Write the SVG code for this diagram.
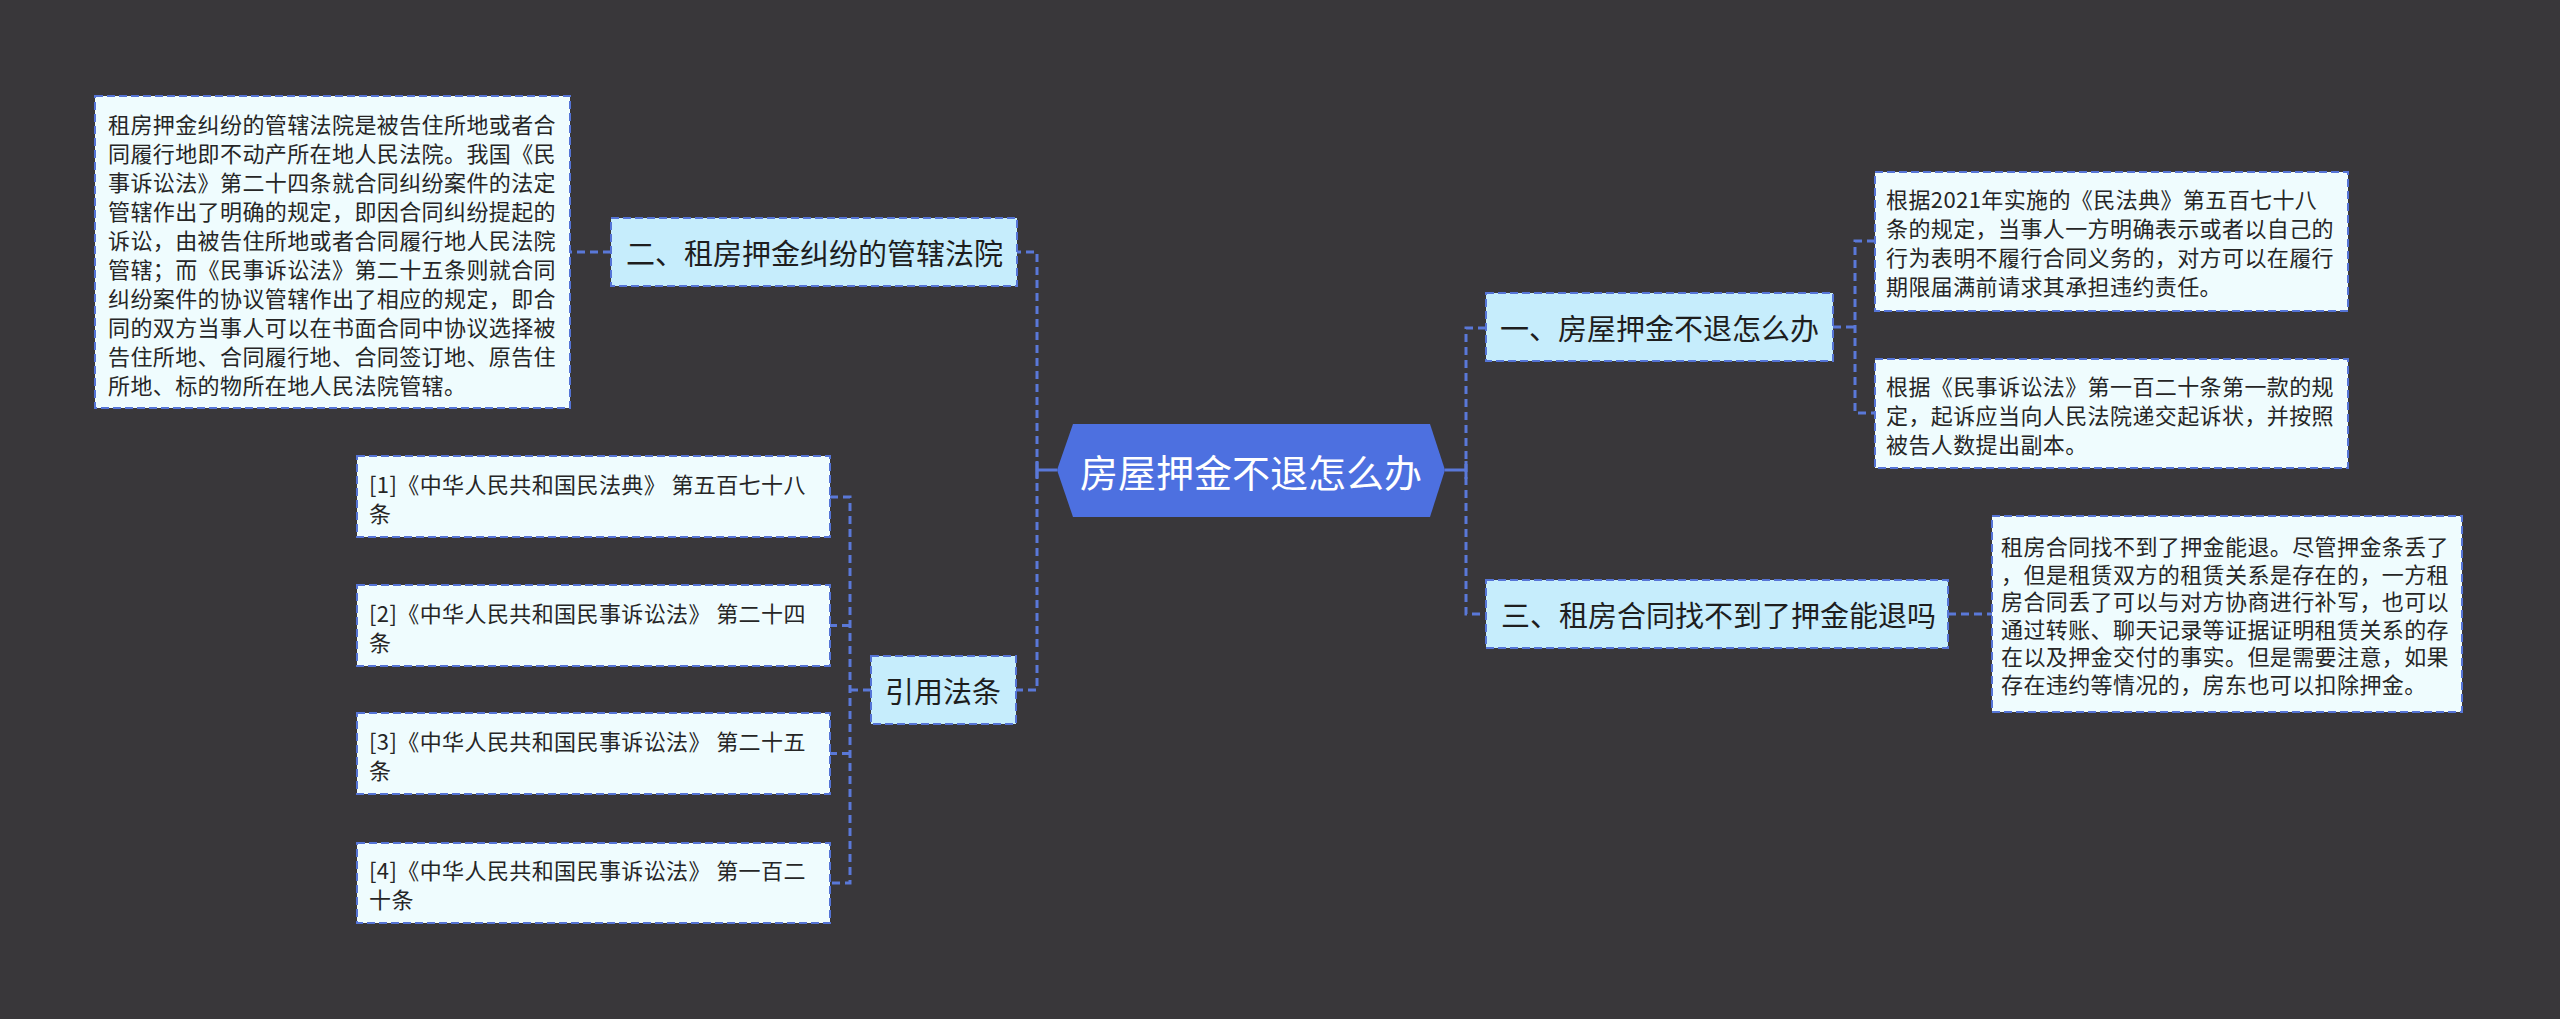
<svg xmlns="http://www.w3.org/2000/svg" width="2560" height="1019" viewBox="0 0 2560 1019">
<style>
.bg{fill:#39373a}
.node{fill:#c6edfc;stroke:#5574d6;stroke-width:2;stroke-dasharray:8 4}
.leaf{fill:#effcfe;stroke:#5574d6;stroke-width:2;stroke-dasharray:8 4}
.conn{fill:none;stroke:#5a78d8;stroke-width:3;stroke-dasharray:8 5}
.solid{fill:none;stroke:#5a78d8;stroke-width:3}
.t29{font-family:"Noto Sans CJK SC","Noto Sans",sans-serif;font-size:29px;fill:#1e1e1e;dominant-baseline:central}
.t22{font-family:"Noto Sans CJK SC","Noto Sans",sans-serif;font-size:22px;letter-spacing:0.4px;fill:#262626;dominant-baseline:central}
.root{font-family:"Noto Sans CJK SC","Noto Sans",sans-serif;font-size:38px;fill:#ffffff;dominant-baseline:central;text-anchor:middle}
</style>
<rect class="bg" x="0" y="0" width="2560" height="1019"/>
<g id="connectors">
<path class="solid" d="M1037,470 H1057 M1037,461 V479"/>
<path class="conn" d="M1037,470 V252 H1017"/>
<path class="conn" d="M1037,470 V690 H1016"/>
<path class="conn" d="M611,252 H570"/>
<path class="conn" d="M871,690 H850"/>
<path class="conn" d="M830,497 H850 V883 H830"/>
<path class="conn" d="M850,625.5 H830"/>
<path class="conn" d="M850,753.5 H830"/>
<path class="solid" d="M1445,470 H1466 M1466,461 V479"/>
<path class="conn" d="M1486,328 H1466 V614 H1486"/>
<path class="conn" d="M1833,327 H1855"/>
<path class="conn" d="M1875,241 H1855 V413 H1875"/>
<path class="conn" d="M1948,614 H1992"/>
</g>
<g id="root">
<polygon points="1057,470 1073,424 1430,424 1445,470 1430,517 1073,517" fill="#4d70e0"/>
<text class="root" x="1251" y="470">房屋押金不退怎么办</text>
</g>
<g id="n2">
<rect class="node" x="611" y="218" width="406" height="68"/>
<text class="t29" x="626" y="252">二、租房押金纠纷的管辖法院</text>
</g>
<g id="n2a">
<rect class="leaf" x="95" y="96" width="475" height="312"/>
<text class="t22" x="108" y="123">租房押金纠纷的管辖法院是被告住所地或者合</text>
<text class="t22" x="108" y="152">同履行地即不动产所在地人民法院。我国《民</text>
<text class="t22" x="108" y="181">事诉讼法》第二十四条就合同纠纷案件的法定</text>
<text class="t22" x="108" y="210">管辖作出了明确的规定，即因合同纠纷提起的</text>
<text class="t22" x="108" y="239">诉讼，由被告住所地或者合同履行地人民法院</text>
<text class="t22" x="108" y="268">管辖；而《民事诉讼法》第二十五条则就合同</text>
<text class="t22" x="108" y="297">纠纷案件的协议管辖作出了相应的规定，即合</text>
<text class="t22" x="108" y="326">同的双方当事人可以在书面合同中协议选择被</text>
<text class="t22" x="108" y="355">告住所地、合同履行地、合同签订地、原告住</text>
<text class="t22" x="108" y="384">所地、标的物所在地人民法院管辖。</text>
</g>
<g id="n4">
<rect class="node" x="871" y="656" width="145" height="68"/>
<text class="t29" x="885" y="690">引用法条</text>
</g>
<g id="n4a">
<rect class="leaf" x="357" y="456" width="473" height="81"/>
<text class="t22" x="369" y="483">[1]《中华人民共和国民法典》 第五百七十八</text>
<text class="t22" x="369" y="512">条</text>
</g>
<g id="n4b">
<rect class="leaf" x="357" y="585" width="473" height="81"/>
<text class="t22" x="369" y="612">[2]《中华人民共和国民事诉讼法》 第二十四</text>
<text class="t22" x="369" y="641">条</text>
</g>
<g id="n4c">
<rect class="leaf" x="357" y="713" width="473" height="81"/>
<text class="t22" x="369" y="740">[3]《中华人民共和国民事诉讼法》 第二十五</text>
<text class="t22" x="369" y="769">条</text>
</g>
<g id="n4d">
<rect class="leaf" x="357" y="843" width="473" height="80"/>
<text class="t22" x="369" y="869">[4]《中华人民共和国民事诉讼法》 第一百二</text>
<text class="t22" x="369" y="898">十条</text>
</g>
<g id="n1">
<rect class="node" x="1486" y="293" width="347" height="68"/>
<text class="t29" x="1500" y="327">一、房屋押金不退怎么办</text>
</g>
<g id="n1a">
<rect class="leaf" x="1875" y="172" width="473" height="139"/>
<text class="t22" x="1886" y="198">根据2021年实施的《民法典》第五百七十八</text>
<text class="t22" x="1886" y="227">条的规定，当事人一方明确表示或者以自己的</text>
<text class="t22" x="1886" y="256">行为表明不履行合同义务的，对方可以在履行</text>
<text class="t22" x="1886" y="285">期限届满前请求其承担违约责任。</text>
</g>
<g id="n1b">
<rect class="leaf" x="1875" y="359" width="473" height="109"/>
<text class="t22" x="1886" y="385">根据《民事诉讼法》第一百二十条第一款的规</text>
<text class="t22" x="1886" y="414">定，起诉应当向人民法院递交起诉状，并按照</text>
<text class="t22" x="1886" y="443">被告人数提出副本。</text>
</g>
<g id="n3">
<rect class="node" x="1486" y="580" width="462" height="68"/>
<text class="t29" x="1501" y="614">三、租房合同找不到了押金能退吗</text>
</g>
<g id="n3a">
<rect class="leaf" x="1992" y="516" width="470" height="196"/>
<text class="t22" x="2001" y="545">租房合同找不到了押金能退。尽管押金条丢了</text>
<text class="t22" x="2001" y="572.5">，但是租赁双方的租赁关系是存在的，一方租</text>
<text class="t22" x="2001" y="600">房合同丢了可以与对方协商进行补写，也可以</text>
<text class="t22" x="2001" y="627.5">通过转账、聊天记录等证据证明租赁关系的存</text>
<text class="t22" x="2001" y="655">在以及押金交付的事实。但是需要注意，如果</text>
<text class="t22" x="2001" y="682.5">存在违约等情况的，房东也可以扣除押金。</text>
</g>
</svg>
